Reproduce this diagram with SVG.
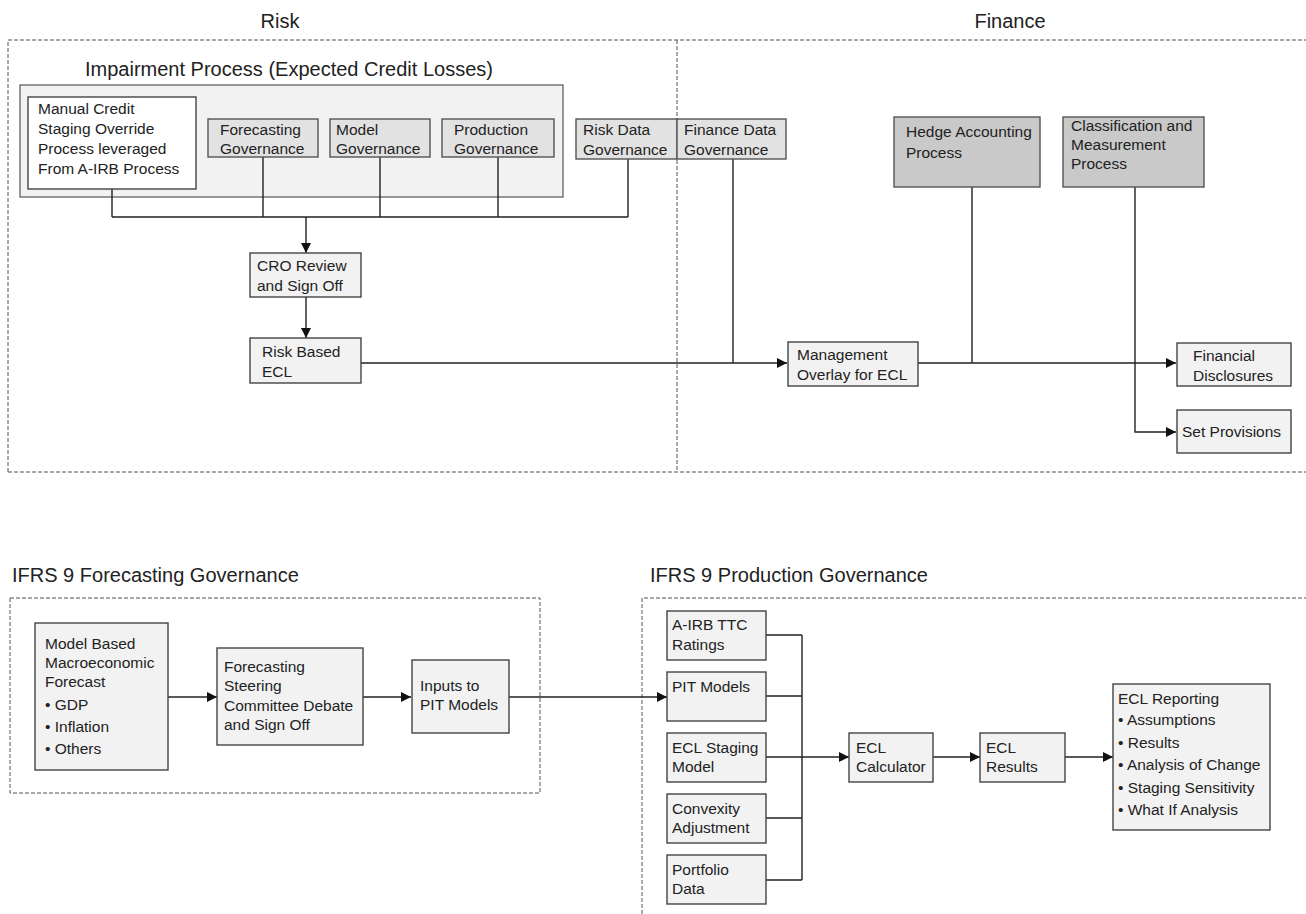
<svg xmlns="http://www.w3.org/2000/svg" width="1306" height="914" viewBox="0 0 1306 914">
<style>
text{font-family:"Liberation Sans",Arial,sans-serif;fill:#222;}
.t{font-size:15.5px;}
.h{font-size:20px;}
.box{fill:#f2f2f2;stroke:#444;stroke-width:1.4;}
.wbox{fill:#fff;stroke:#444;stroke-width:1.4;}
.gbox{fill:#e2e2e2;stroke:#555;stroke-width:1.4;}
.dbox{fill:#c9c9c9;stroke:#555;stroke-width:1.4;}
.dash{fill:none;stroke:#555;stroke-width:1;stroke-dasharray:4,2;}
.ln{fill:none;stroke:#222;stroke-width:1.4;}
.ar{fill:none;stroke:#222;stroke-width:1.4;marker-end:url(#ah);}
</style>
<defs>
<marker id="ah" markerWidth="10" markerHeight="10" refX="10" refY="5" orient="auto" markerUnits="userSpaceOnUse">
<path d="M0,0 L10,5 L0,10 Z" fill="#111"/>
</marker>
</defs>
<rect width="1306" height="914" fill="#fff"/>

<g id="containers">
<text class="h" x="280" y="28" text-anchor="middle">Risk</text>
<text class="h" x="1010" y="28" text-anchor="middle">Finance</text>
<path class="dash" d="M8,472 L8,40 L1306,40 M8,472 L1306,472 M677,40 L677,472"/>
<text class="h" x="85" y="76">Impairment Process (Expected Credit Losses)</text>
<rect x="20" y="85" width="543" height="112" fill="#f2f2f2" stroke="#555" stroke-width="1.2"/>
<text class="h" x="12" y="582">IFRS 9 Forecasting Governance</text>
<text class="h" x="650" y="582">IFRS 9 Production Governance</text>
<rect class="dash" x="10" y="598" width="530" height="195"/>
<path class="dash" d="M642,914 L642,598 L1306,598"/>
</g>

<g id="connectors">
<path class="ln" d="M112,189 V217 M263,157 V217 M380,157 V217 M498,157 V217 M628,159 V217 M112,217 H628"/>
<path class="ar" d="M306,217 V253"/>
<path class="ar" d="M306,297 V338"/>
<path class="ar" d="M361,363 H787"/>
<path class="ln" d="M733,159 V363"/>
<path class="ar" d="M918,363 H1176"/>
<path class="ln" d="M972,187 V363"/>
<path class="ar" d="M1135,187 V432 H1176"/>
<path class="ar" d="M168,697 H217"/>
<path class="ar" d="M363,697 H411"/>
<path class="ar" d="M509,697 H667"/>
<path class="ln" d="M766,635 H802 M766,696 H802 M766,818 H802 M766,880 H802 M802,635 V880"/>
<path class="ar" d="M766,757 H849"/>
<path class="ar" d="M933,757 H980"/>
<path class="ar" d="M1065,757 H1113"/>
</g>

<g id="manual-credit">
<rect class="wbox" x="28" y="97" width="168" height="92"/>
<text class="t" x="38" y="114">Manual Credit</text>
<text class="t" x="38" y="134">Staging Override</text>
<text class="t" x="38" y="154">Process leveraged</text>
<text class="t" x="38" y="174">From A-IRB Process</text>
</g>
<g id="forecasting-gov">
<rect class="gbox" x="208" y="119" width="110" height="38"/>
<text class="t" x="220" y="135">Forecasting</text>
<text class="t" x="220" y="154">Governance</text>
</g>
<g id="model-gov">
<rect class="gbox" x="330" y="119" width="100" height="38"/>
<text class="t" x="336" y="135">Model</text>
<text class="t" x="336" y="154">Governance</text>
</g>
<g id="production-gov">
<rect class="gbox" x="442" y="119" width="112" height="38"/>
<text class="t" x="454" y="135">Production</text>
<text class="t" x="454" y="154">Governance</text>
</g>
<g id="risk-data-gov">
<rect class="gbox" x="576" y="119" width="101" height="40"/>
<text class="t" x="583" y="135">Risk Data</text>
<text class="t" x="583" y="155">Governance</text>
</g>
<g id="finance-data-gov">
<rect class="gbox" x="677" y="119" width="109" height="40"/>
<text class="t" x="684" y="135">Finance Data</text>
<text class="t" x="684" y="155">Governance</text>
</g>
<g id="hedge">
<rect class="dbox" x="894" y="117" width="146" height="70"/>
<text class="t" x="906" y="137">Hedge Accounting</text>
<text class="t" x="906" y="158">Process</text>
</g>
<g id="classification">
<rect class="dbox" x="1063" y="117" width="141" height="70"/>
<text class="t" x="1071" y="131">Classification and</text>
<text class="t" x="1071" y="150">Measurement</text>
<text class="t" x="1071" y="169">Process</text>
</g>
<g id="cro">
<rect class="box" x="250" y="253" width="111" height="44"/>
<text class="t" x="257" y="271">CRO Review</text>
<text class="t" x="257" y="291">and Sign Off</text>
</g>
<g id="risk-ecl">
<rect class="box" x="250" y="338" width="111" height="45"/>
<text class="t" x="262" y="357">Risk Based</text>
<text class="t" x="262" y="377">ECL</text>
</g>
<g id="mgmt-overlay">
<rect class="box" x="788" y="342" width="130" height="44"/>
<text class="t" x="797" y="360">Management</text>
<text class="t" x="797" y="380">Overlay for ECL</text>
</g>
<g id="fin-disc">
<rect class="box" x="1177" y="343" width="114" height="43"/>
<text class="t" x="1193" y="361">Financial</text>
<text class="t" x="1193" y="381">Disclosures</text>
</g>
<g id="set-prov">
<rect class="box" x="1177" y="410" width="114" height="43"/>
<text class="t" x="1182" y="437">Set Provisions</text>
</g>

<g id="macro">
<rect class="box" x="35" y="623" width="133" height="147"/>
<text class="t" x="45" y="649">Model Based</text>
<text class="t" x="45" y="668">Macroeconomic</text>
<text class="t" x="45" y="687">Forecast</text>
<text class="t" x="45" y="710">• GDP</text>
<text class="t" x="45" y="732">• Inflation</text>
<text class="t" x="45" y="754">• Others</text>
</g>
<g id="steering">
<rect class="box" x="217" y="648" width="146" height="97"/>
<text class="t" x="224" y="672">Forecasting</text>
<text class="t" x="224" y="691">Steering</text>
<text class="t" x="224" y="711">Committee Debate</text>
<text class="t" x="224" y="730">and Sign Off</text>
</g>
<g id="inputs-pit">
<rect class="box" x="412" y="660" width="97" height="73"/>
<text class="t" x="420" y="691">Inputs to</text>
<text class="t" x="420" y="710">PIT Models</text>
</g>
<g id="airb">
<rect class="box" x="667" y="611" width="99" height="49"/>
<text class="t" x="672" y="630">A-IRB TTC</text>
<text class="t" x="672" y="650">Ratings</text>
</g>
<g id="pit-models">
<rect class="box" x="667" y="672" width="99" height="49"/>
<text class="t" x="672" y="692">PIT Models</text>
</g>
<g id="ecl-staging">
<rect class="box" x="667" y="733" width="99" height="49"/>
<text class="t" x="672" y="753">ECL Staging</text>
<text class="t" x="672" y="772">Model</text>
</g>
<g id="convexity">
<rect class="box" x="667" y="794" width="99" height="49"/>
<text class="t" x="672" y="814">Convexity</text>
<text class="t" x="672" y="833">Adjustment</text>
</g>
<g id="portfolio">
<rect class="box" x="667" y="855" width="99" height="49"/>
<text class="t" x="672" y="875">Portfolio</text>
<text class="t" x="672" y="894">Data</text>
</g>
<g id="ecl-calc">
<rect class="box" x="849" y="733" width="84" height="49"/>
<text class="t" x="856" y="753">ECL</text>
<text class="t" x="856" y="772">Calculator</text>
</g>
<g id="ecl-results">
<rect class="box" x="980" y="733" width="85" height="49"/>
<text class="t" x="986" y="753">ECL</text>
<text class="t" x="986" y="772">Results</text>
</g>
<g id="ecl-reporting">
<rect class="box" x="1113" y="684" width="157" height="146"/>
<text class="t" x="1118" y="704">ECL Reporting</text>
<text class="t" x="1118" y="725">• Assumptions</text>
<text class="t" x="1118" y="748">• Results</text>
<text class="t" x="1118" y="770">• Analysis of Change</text>
<text class="t" x="1118" y="793">• Staging Sensitivity</text>
<text class="t" x="1118" y="815">• What If Analysis</text>
</g>
</svg>
